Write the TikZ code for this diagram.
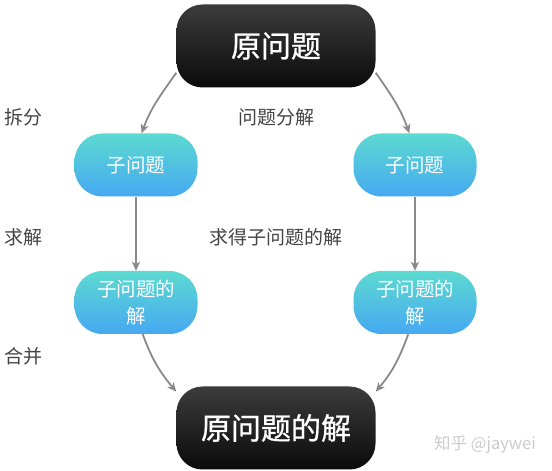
\documentclass[tikz,border=0pt]{standalone}
\usepackage{fontspec}
\newfontfamily\cjk{Noto Sans CJK SC}
\newfontfamily\cjkb[FakeBold=0.8]{Noto Sans CJK SC}
\usetikzlibrary{arrows.meta}
\definecolor{arrowgray}{HTML}{8A8A8A}
\definecolor{labelgray}{HTML}{444444}
\definecolor{tealtop}{HTML}{5CDAD0}
\definecolor{bluebot}{HTML}{46A8F2}
\definecolor{darktop}{HTML}{3C3C3C}
\definecolor{darkbot}{HTML}{0A0A0A}
\tikzset{
  bignode/.style={rectangle, rounded corners=26pt, top color=darktop, bottom color=darkbot,
    minimum width=199pt, minimum height=83pt, inner sep=0pt, text=white,
    font=\cjkb\fontsize{30}{36}\selectfont},
  subnode/.style={rectangle, rounded corners=28pt, top color=tealtop, bottom color=bluebot,
    minimum width=123pt, minimum height=63pt, inner sep=0pt, text=white, align=center,
    font=\cjk\fontsize{19.5}{27}\selectfont},
  lbl/.style={text=labelgray, inner sep=0pt, font=\cjk\fontsize{19}{23}\selectfont},
  conn/.style={draw=arrowgray, line width=1.8pt, -{Stealth[length=9pt,width=8pt,inset=2.5pt]}},
  wmark/.style={text=black!20, inner sep=0pt, font=\cjk\fontsize{16.5}{20}\selectfont}
}
\begin{document}
\begin{tikzpicture}[x=1pt,y=1pt]
\useasboundingbox (0,0) rectangle (552,471);
\fill[white] (0,0) rectangle (552,471);
\node[bignode] (top) at (276,425) {原问题};
\node[bignode] (bot) at (276,43) {原问题的解};
\node[subnode] (L1) at (136,306) {子问题};
\node[subnode] (R1) at (415,306) {子问题};
\node[subnode] (L2) at (136,168.5) {子问题的\\解};
\node[subnode] (R2) at (415,168.5) {子问题的\\解};
\node[lbl] (c1) at (24,354) {拆分};
\node[lbl] (c2) at (276,354) {问题分解};
\node[lbl] (c3) at (24,234) {求解};
\node[lbl] (c4) at (276,234) {求得子问题的解};
\node[lbl] (c5) at (24,115) {合并};
\node[wmark] (wm) at (485,26) {知乎 @jaywei};
\draw[conn] (top.195) to[out=235,in=70] (L1.80);
\draw[conn] (top.-15) to[out=-55,in=110] (R1.100);
\draw[conn] (L1.south) -- (L2.north);
\draw[conn] (R1.south) -- (R2.north);
\draw[conn] (L2.282) to[out=-70,in=130] (bot.160);
\draw[conn] (R2.258) to[out=-110,in=50] (bot.20);
\end{tikzpicture}
\end{document}
